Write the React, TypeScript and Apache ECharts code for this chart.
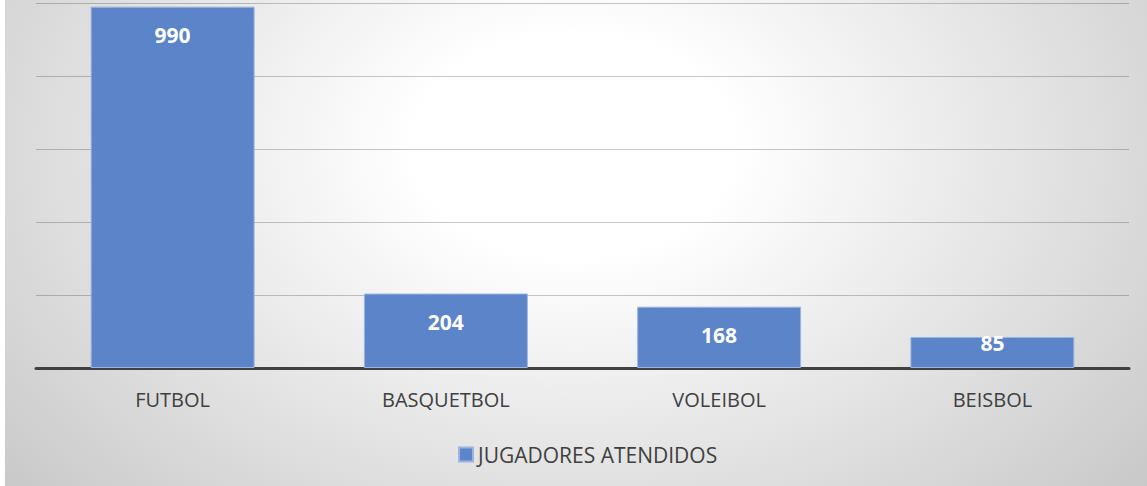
import React, { useEffect, useRef } from "react";
import * as echarts from "echarts";

const categories = ["FUTBOL", "BASQUETBOL", "VOLEIBOL", "BEISBOL"];
const values = [990, 204, 168, 85];
const seriesName = "JUGADORES ATENDIDOS";
const labelDistances = [18, 18, 18, -4];

export default function App() {
  const ref = useRef<HTMLDivElement>(null);
  useEffect(() => {
    document.body.style.margin = "0";
    const chart = echarts.init(ref.current!, null, { renderer: "svg" });
    chart.setOption({
      animation: false,
      backgroundColor: "transparent",
      textStyle: { fontFamily: "Open Sans" },
      grid: { left: 36, right: 18, top: 3, bottom: 118, containLabel: false },
      legend: {
        data: [seriesName],
        left: 458,
        top: 444,
        padding: 0,
        itemWidth: 14,
        itemHeight: 14,
        icon: "rect",
        textStyle: { fontSize: 21, color: "#404040", fontFamily: "Open Sans" },
      },
      xAxis: {
        type: "category",
        data: categories,
        axisLine: { show: true, lineStyle: { color: "#404040", width: 3 } },
        axisTick: { show: false },
        axisLabel: { color: "#404040", fontSize: 20, margin: 21, fontFamily: "Open Sans" },
      },
      yAxis: {
        type: "value",
        min: 0,
        max: 1000,
        interval: 200,
        axisLabel: { show: false },
        axisLine: { show: false },
        axisTick: { show: false },
        splitLine: { lineStyle: { color: "rgba(0,0,0,0.22)", width: 1 } },
      },
      series: [
        {
          name: seriesName,
          type: "bar",
          barWidth: "60%",
          data: values.map((v, i) => ({
            value: v,
            label: { distance: labelDistances[i] },
          })),
          itemStyle: { color: "#5b84c9", borderColor: "#9db4e0", borderWidth: 1 },
          label: {
            show: true,
            position: "insideTop",
            color: "#ffffff",
            fontWeight: "bold",
            fontSize: 21,
            fontFamily: "Open Sans",
          },
        },
      ],
      graphic: [
        {
          type: "rect",
          left: 0,
          top: 0,
          shape: { width: 5, height: 486 },
          style: { fill: "#ffffff" },
          silent: true,
        },
      ],
    });
    return () => chart.dispose();
  }, []);
  return (
    <div
      ref={ref}
      style={{
        width: 1147,
        height: 486,
        background:
          "radial-gradient(ellipse 70% 115% at 50% 30%, #ffffff 0%, #ffffff 20%, #c4c4c4 100%)",
      }}
    />
  );
}
